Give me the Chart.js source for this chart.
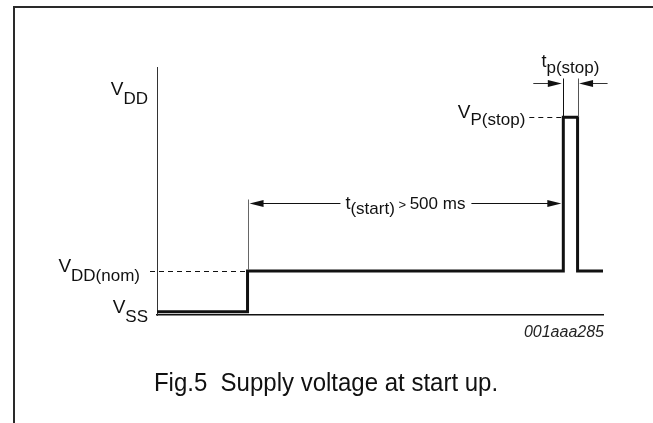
<!DOCTYPE html>
<html>
<head>
<meta charset="utf-8">
<title>Fig.5 Supply voltage at start up</title>
<script src="https://cdn.jsdelivr.net/npm/chart.js@4/dist/chart.umd.min.js"></script>
<style>
  html, body { margin: 0; padding: 0; background: #fff; }
</style>
</head>
<body>
<canvas id="chart-display" width="653" height="423"></canvas>
<script>
// supply trace: time (arbitrary units 0-100) and level (arbitrary units)
var timePoints = [0, 20.3, 20.3, 91.1, 91.1, 94.3, 94.3, 100];
var supplyLevels = [0, 0, 1, 1, 4.77, 4.77, 1, 1];

// level labels on the y axis (letter + subscript)
var levelValues = [0, 1, 5.34];
var levelNames = ['V', 'V', 'V'];
var levelSubs = ['SS', 'DD(nom)', 'DD'];

// annotation values (data space)
var stepTime = 20.3, pulseStart = 91.1, pulseEnd = 94.3;
var nomLevel = 1, pulseLevel = 4.77;
var startArrowLevel = 2.67, stopArrowLevel = 5.61;

var FONT = '"Liberation Sans", Arial, Helvetica, sans-serif';
var ctx = document.getElementById('chart-display');

function richText(c, x, y, parts, align) {
    // parts: [text, size, dy, italic]
    var total = 0;
    parts.forEach(function(p) {
        c.font = (p[3] ? 'italic ' : '') + p[1] + 'px ' + FONT;
        total += c.measureText(p[0]).width;
    });
    var cx = x;
    if (align === 'right') cx = x - total;
    if (align === 'center') cx = x - total / 2;
    parts.forEach(function(p) {
        c.font = (p[3] ? 'italic ' : '') + p[1] + 'px ' + FONT;
        c.fillText(p[0], cx, y + p[2]);
        cx += c.measureText(p[0]).width;
    });
    return total;
}

function arrowHead(c, tipX, y, dir) {
    // dir = 1 points right, -1 points left
    c.beginPath();
    c.moveTo(tipX, y);
    c.lineTo(tipX - dir * 14, y - 3.5);
    c.lineTo(tipX - dir * 14, y + 3.5);
    c.closePath();
    c.fill();
}

function hLine(c, x1, x2, y) {
    c.beginPath();
    c.moveTo(x1, y);
    c.lineTo(x2, y);
    c.stroke();
}

function vLine(c, x, y1, y2) {
    c.beginPath();
    c.moveTo(x, y1);
    c.lineTo(x, y2);
    c.stroke();
}

var schematic = {
    id: 'schematic',
    afterDraw: function(chart) {
        var c = chart.ctx;
        var xs = chart.scales.x, ys = chart.scales.y;
        var area = chart.chartArea;
        c.save();
        c.textBaseline = 'alphabetic';
        c.textAlign = 'left';

        // frame
        c.fillStyle = '#2a2a2a';
        c.fillRect(13, 6, 2, 417);
        c.fillRect(13, 6, 640, 2);

        c.fillStyle = '#111';
        c.strokeStyle = '#111';

        var stepX = xs.getPixelForValue(stepTime);
        var p1 = xs.getPixelForValue(pulseStart);
        var p2 = xs.getPixelForValue(pulseEnd);
        var nomY = ys.getPixelForValue(nomLevel);
        var peakY = ys.getPixelForValue(pulseLevel);

        // dashed leaders
        c.lineWidth = 1;
        c.setLineDash([5, 4]);
        hLine(c, area.left - 7, stepX - 2, Math.round(nomY) + 0.5);
        hLine(c, p1 - 34, p1 - 2, Math.round(peakY) + 0.5);
        c.setLineDash([]);

        // y axis labels
        for (var i = 0; i < levelValues.length; i++) {
            var ly = ys.getPixelForValue(levelValues[i]);
            var gap = levelValues[i] === nomLevel ? 17 : 9;
            richText(c, area.left - gap, ly + 1, [[levelNames[i], 19, 0], [levelSubs[i], 17, 9]], 'right');
        }
        richText(c, p1 - 38, peakY + 1, [['V', 19, 0], ['P(stop)', 17, 7]], 'right');

        // t(start) dimension
        var ay = Math.round(ys.getPixelForValue(startArrowLevel)) + 0.5;
        c.strokeStyle = '#666';
        vLine(c, Math.round(stepX) + 0.5, ay - 4, nomY - 1);
        c.strokeStyle = '#111';
        c.fillStyle = '#111';
        var a1 = stepX + 2, a2 = p1 - 2;
        var mid = (a1 + a2) / 2;
        var label = [['t', 18, 0], ['(start)', 17, 5], [' > ', 13, 0], ['500 ms', 17, 0]];
        var tw = richText(c, -1000, -1000, label);
        richText(c, mid, ay + 5, label, 'center');
        hLine(c, a1 + 6, mid - tw / 2 - 5, ay);
        hLine(c, mid + tw / 2 + 6, a2 - 6, ay);
        arrowHead(c, a1, ay, -1);
        arrowHead(c, a2, ay, 1);

        // tp(stop) dimension
        var sy = Math.round(ys.getPixelForValue(stopArrowLevel)) + 0.5;
        c.strokeStyle = '#111';
        vLine(c, Math.round(p1) + 0.5, sy - 5, peakY);
        c.strokeStyle = '#555';
        vLine(c, Math.round(p2) + 0.5, sy - 5, peakY);
        c.strokeStyle = '#333';
        hLine(c, p1 - 30, p1 - 6, sy);
        hLine(c, p2 + 30, p2 + 6, sy);
        arrowHead(c, p1 - 1.5, sy, 1);
        arrowHead(c, p2 + 1.5, sy, -1);
        richText(c, (p1 + p2) / 2, sy - 17, [['t', 18, 0], ['p(stop)', 17, 6]], 'center');

        // drawing id and caption
        c.fillStyle = '#222';
        richText(c, area.right + 1, area.bottom + 22, [['001aaa285', 16, 0, true]], 'right');
        c.fillStyle = '#111';
        c.save();
        c.translate(326, 391);
        c.scale(1, 1.08);
        richText(c, 0, 0, [['Fig.5  Supply voltage at start up.', 24, 0]], 'center');
        c.restore();
        c.restore();
    }
};

new Chart(ctx, {
    type: 'line',
    data: {
        datasets: [{
            label: 'Supply voltage',
            data: timePoints.map(function(t, i) {
                return { x: t, y: supplyLevels[i] };
            }),
            borderColor: '#111',
            borderWidth: 3,
            borderJoinStyle: 'miter',
            pointRadius: 0,
            tension: 0,
            fill: false
        }]
    },
    options: {
        responsive: false,
        animation: false,
        layout: { padding: { left: 157, right: 50, top: 67, bottom: 108 } },
        plugins: { legend: { display: false }, tooltip: { enabled: false } },
        scales: {
            x: {
                type: 'linear', min: 0, max: 100,
                grid: { display: false },
                ticks: { display: false },
                border: { display: true, color: '#111', width: 1.5 },
                afterFit: function(s) { s.height = 0; }
            },
            y: {
                min: -0.08, max: 6,
                grid: { display: false },
                ticks: { display: false },
                border: { display: true, color: '#333', width: 1 },
                afterFit: function(s) { s.width = 0; }
            }
        }
    },
    plugins: [schematic]
});
</script>
</body>
</html>
